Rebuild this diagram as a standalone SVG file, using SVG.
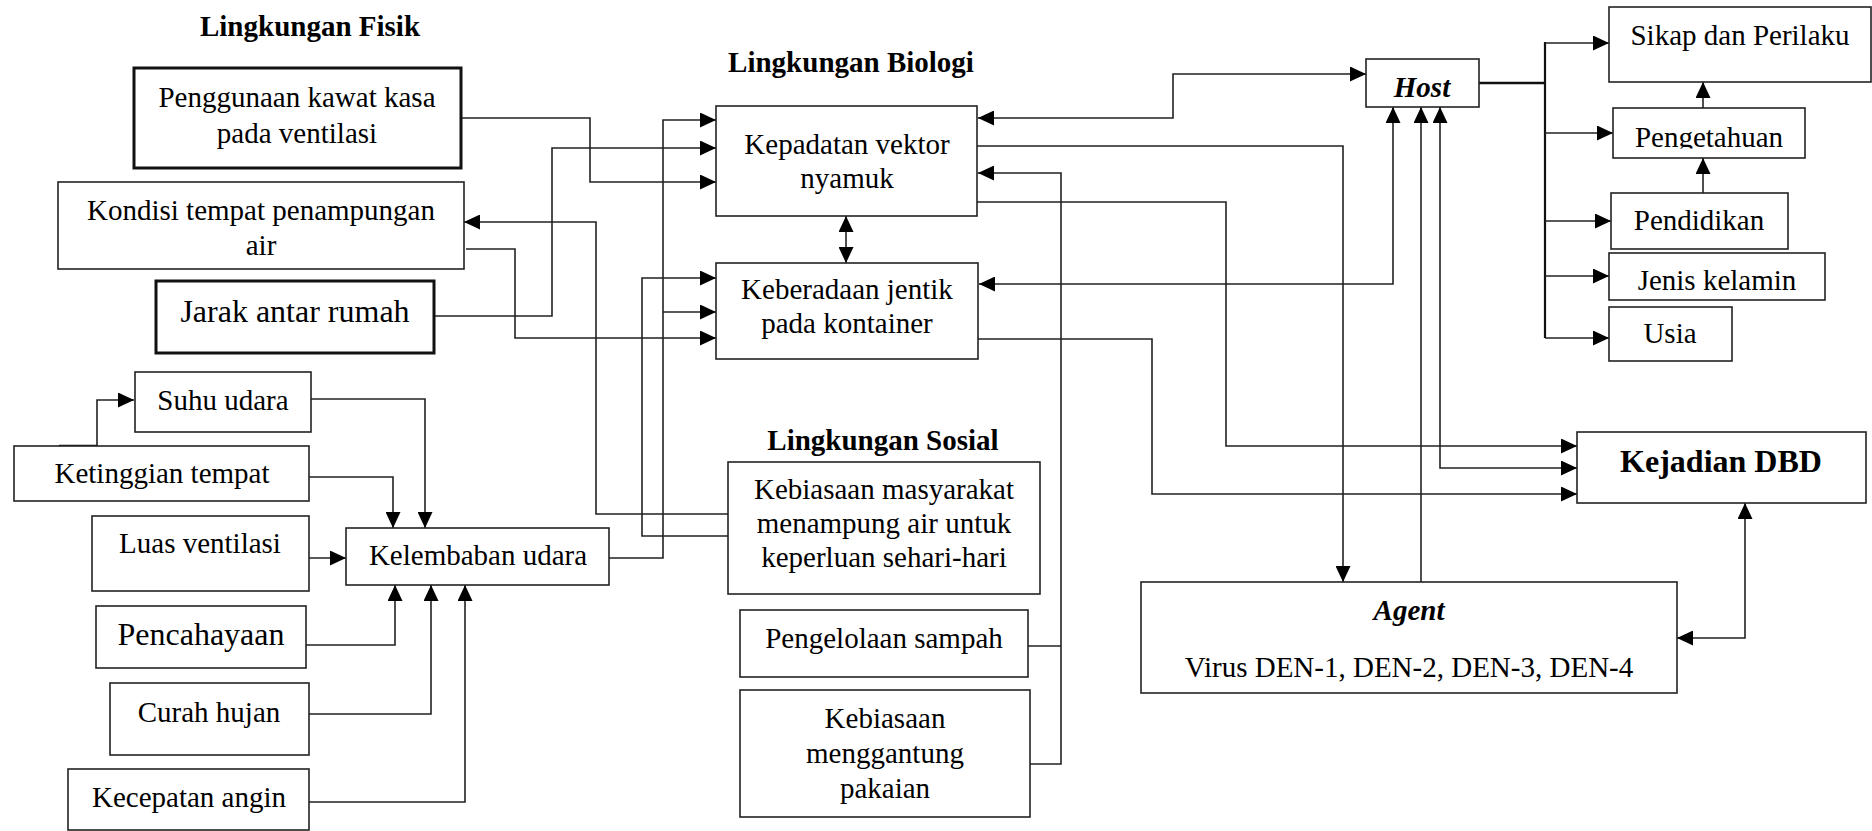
<svg xmlns="http://www.w3.org/2000/svg" width="1872" height="831" viewBox="0 0 1872 831">
<style>
.bx{fill:#fff;stroke:#222;stroke-width:1.6}
.bk{fill:#fff;stroke:#111;stroke-width:3}
.t{font-family:"Liberation Serif","Times New Roman",serif;font-size:29px;fill:#000;text-anchor:middle}
.tl{font-size:32px}
.b{font-weight:bold}
.bi{font-weight:bold;font-style:italic}
.c{fill:none;stroke:#222;stroke-width:1.6}
.e{marker-end:url(#ah)}
.d{marker-start:url(#ah);marker-end:url(#ah)}
</style>
<defs>
<marker id="ah" markerUnits="userSpaceOnUse" markerWidth="16" markerHeight="15" refX="16" refY="7.5" orient="auto-start-reverse"><path d="M0,0 L16,7.5 L0,15 z" fill="#000"/></marker>
<clipPath id="clipP"><rect x="1613" y="108" width="192" height="40.5"/></clipPath>
</defs>
<rect width="1872" height="831" fill="#fff"/>

<text class="t b" x="310" y="36">Lingkungan Fisik</text>
<text class="t b" x="851" y="72">Lingkungan Biologi</text>
<text class="t b" x="883" y="450">Lingkungan Sosial</text>

<g id="connectors">
<path class="c e" d="M59,446 H97 V400 H134"/>
<path d="M59,446 H97" fill="none" stroke="#111" stroke-width="2.5"/>
<path class="c e" d="M311,399 H425 V528"/>
<path class="c e" d="M309,477 H393 V528"/>
<path class="c e" d="M309,558 H346"/>
<path class="c e" d="M306,645 H395 V585"/>
<path class="c e" d="M309,714 H431 V585"/>
<path class="c e" d="M309,802 H465 V585"/>
<path class="c e" d="M609,558 H663 V120 H716"/>
<path class="c e" d="M663,312 H716"/>
<path class="c e" d="M461,118 H590 V182 H716"/>
<path class="c e" d="M434,316 H552 V148 H716"/>
<path class="c e" d="M728,514 H596 V222 H464"/>
<path class="c e" d="M466,249 H515 V338 H716"/>
<path class="c e" d="M728,536 H642 V278 H716"/>
<path class="c d" d="M846,216 V263"/>
<path class="c d" d="M978,118 H1173 V74 H1366"/>
<path class="c e" d="M977,146 H1343 V582"/>
<path class="c" d="M1028,646 H1061"/>
<path class="c e" d="M1030,764 H1061 V173 H978"/>
<path class="c e" d="M977,202 H1226 V446 H1577"/>
<path class="c d" d="M979,284 H1393 V107"/>
<path class="c e" d="M978,339 H1152 V494 H1577"/>
<path class="c e" d="M1421,582 V107"/>
<path class="c d" d="M1440,107 V468 H1577"/>
<path class="c d" d="M1677,638 H1745 V503"/>
<path d="M1479,83 H1545" fill="none" stroke="#111" stroke-width="2.6"/>
<path d="M1545,42 V338" fill="none" stroke="#111" stroke-width="2.2"/>
<path class="c e" d="M1545,43 H1609"/>
<path class="c e" d="M1545,133 H1613"/>
<path class="c e" d="M1545,221 H1611"/>
<path class="c e" d="M1545,276 H1609"/>
<path class="c e" d="M1545,338 H1609"/>
<path class="c e" d="M1703,108 V82"/>
<path class="c e" d="M1703,193 V158"/>
</g>

<g id="penggunaan"><rect class="bk" x="134" y="68" width="327" height="100"/><text class="t" x="297" y="107">Penggunaan kawat kasa</text><text class="t" x="297" y="143">pada ventilasi</text></g>
<g id="kondisi"><rect class="bx" x="58" y="182" width="406" height="87"/><text class="t" x="261" y="220">Kondisi tempat penampungan</text><text class="t" x="261" y="255">air</text></g>
<g id="jarak"><rect class="bk" x="156" y="281" width="278" height="72"/><text class="t tl" x="295" y="322">Jarak antar rumah</text></g>
<g id="suhu"><rect class="bx" x="135" y="372" width="176" height="60"/><text class="t" x="223" y="410">Suhu udara</text></g>
<g id="ketinggian"><rect class="bx" x="14" y="446" width="295" height="55"/><text class="t" x="162" y="483">Ketinggian tempat</text></g>
<g id="luas"><rect class="bx" x="92" y="516" width="217" height="75"/><text class="t" x="200" y="553">Luas ventilasi</text></g>
<g id="kelembaban"><rect class="bx" x="346" y="528" width="263" height="57"/><text class="t" x="478" y="565">Kelembaban udara</text></g>
<g id="pencahayaan"><rect class="bx" x="96" y="606" width="210" height="62"/><text class="t tl" x="201" y="645">Pencahayaan</text></g>
<g id="curah"><rect class="bx" x="110" y="683" width="199" height="72"/><text class="t" x="209" y="722">Curah hujan</text></g>
<g id="kecepatan"><rect class="bx" x="68" y="769" width="241" height="61"/><text class="t" x="189" y="807">Kecepatan angin</text></g>

<g id="kepadatan"><rect class="bx" x="716" y="106" width="261" height="110"/><text class="t" x="847" y="154">Kepadatan vektor</text><text class="t" x="847" y="188">nyamuk</text></g>
<g id="keberadaan"><rect class="bx" x="716" y="263" width="262" height="96"/><text class="t" x="847" y="299">Keberadaan jentik</text><text class="t" x="847" y="333">pada kontainer</text></g>

<g id="kebiasaan-air"><rect class="bx" x="728" y="462" width="312" height="132"/><text class="t" x="884" y="499">Kebiasaan masyarakat</text><text class="t" x="884" y="533">menampung air untuk</text><text class="t" x="884" y="567">keperluan sehari-hari</text></g>
<g id="sampah"><rect class="bx" x="740" y="610" width="288" height="67"/><text class="t" x="884" y="648">Pengelolaan sampah</text></g>
<g id="pakaian"><rect class="bx" x="740" y="690" width="290" height="127"/><text class="t" x="885" y="728">Kebiasaan</text><text class="t" x="885" y="763">menggantung</text><text class="t" x="885" y="798">pakaian</text></g>

<g id="host"><rect class="bx" x="1366" y="59" width="113" height="48"/><text class="t bi" x="1422" y="97">Host</text></g>
<g id="sikap"><rect class="bx" x="1609" y="7" width="262" height="75"/><text class="t" x="1740" y="45">Sikap dan Perilaku</text></g>
<g id="pengetahuan"><rect class="bx" x="1613" y="108" width="192" height="50"/><text class="t" x="1709" y="147" clip-path="url(#clipP)">Pengetahuan</text></g>
<g id="pendidikan"><rect class="bx" x="1611" y="193" width="177" height="56"/><text class="t" x="1699" y="230">Pendidikan</text></g>
<g id="jenis"><rect class="bx" x="1609" y="253" width="216" height="47"/><text class="t" x="1717" y="290">Jenis kelamin</text></g>
<g id="usia"><rect class="bx" x="1609" y="307" width="123" height="54"/><text class="t" x="1670" y="343">Usia</text></g>

<g id="kejadian"><rect class="bx" x="1577" y="432" width="289" height="71"/><text class="t tl b" x="1721" y="472">Kejadian DBD</text></g>
<g id="agent"><rect class="bx" x="1141" y="582" width="536" height="111"/><text class="t bi" x="1409" y="620">Agent</text><text class="t" x="1409" y="677">Virus DEN-1, DEN-2, DEN-3, DEN-4</text></g>
</svg>
